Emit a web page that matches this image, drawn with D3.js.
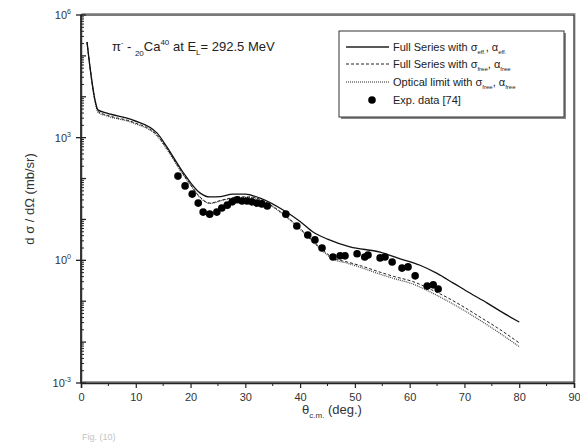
<!DOCTYPE html>
<html>
<head>
<meta charset="utf-8">
<title>pi- Ca40 cross section</title>
<script src="https://cdn.jsdelivr.net/npm/d3@7"></script>
<style>
  body { margin: 0; background: #fff; }
  text { font-family: "Liberation Sans", Arial, sans-serif; fill: #222; }
</style>
</head>
<body>
<script>
// angle (deg), log10 of cross section (mb/sr)
var solidDeg = [1.1, 1.64, 2.56, 3.1, 4.75, 9.5, 13.9, 15.7, 18.6, 21.7, 23.5, 25.5, 27.7, 30, 32.7, 36.9, 40, 42.5, 45, 49.1, 54.6, 58, 61.9, 65, 67.9, 71, 74.1, 77, 80];
var solidLog = [5.34, 4.73, 3.92, 3.68, 3.60, 3.43, 3.11, 2.77, 2.16, 1.65, 1.55, 1.56, 1.62, 1.62, 1.52, 1.23, 0.95, 0.68, 0.52, 0.33, 0.20, 0.05, -0.12, -0.32, -0.55, -0.80, -1.04, -1.28, -1.51];

var dashDeg = [1.1, 1.64, 2.56, 3.1, 4.75, 9.5, 13.9, 15.7, 18.6, 20, 21.7, 23.5, 25.9, 29, 31, 34, 37.6, 40, 42, 44, 46, 48.6, 51, 54.6, 57, 60.6, 64, 67, 70, 73, 76, 80];
var dashLog = [5.34, 4.73, 3.90, 3.64, 3.55, 3.38, 3.06, 2.73, 2.12, 1.85, 1.55, 1.40, 1.48, 1.55, 1.55, 1.40, 1.06, 0.78, 0.52, 0.27, 0.06, -0.04, -0.13, -0.29, -0.39, -0.52, -0.72, -0.92, -1.15, -1.40, -1.65, -2.02];

var dotDeg = [1.1, 1.64, 2.56, 3.1, 4.75, 9.5, 13.9, 15.7, 18.6, 20, 21.7, 23.5, 25.9, 29, 31, 34, 37.6, 40, 42, 44, 46, 48.6, 51, 54.6, 57, 60.6, 64, 67, 70, 73, 76, 80];
var dotLog = [5.33, 4.72, 3.88, 3.62, 3.53, 3.36, 3.04, 2.71, 2.10, 1.84, 1.54, 1.39, 1.47, 1.54, 1.54, 1.39, 1.05, 0.76, 0.50, 0.24, 0.03, -0.07, -0.17, -0.34, -0.44, -0.58, -0.79, -1.00, -1.23, -1.48, -1.74, -2.11];

var expDeg = [17.7, 19.0, 20.3, 21.4, 22.3, 23.5, 24.8, 25.7, 26.7, 27.6, 28.5, 29.4, 30.3, 31.2, 32.1, 33.0, 34.0, 37.4, 39.4, 41.4, 42.7, 44.0, 46.0, 47.3, 48.2, 50.4, 51.8, 52.4, 54.6, 55.5, 56.8, 58.6, 59.7, 61.0, 63.2, 64.3, 65.2];
var expLog = [2.06, 1.82, 1.62, 1.40, 1.18, 1.13, 1.18, 1.28, 1.35, 1.43, 1.48, 1.45, 1.45, 1.43, 1.40, 1.38, 1.33, 1.13, 0.84, 0.62, 0.50, 0.30, 0.08, 0.11, 0.11, 0.16, 0.08, 0.13, 0.06, 0.08, -0.04, -0.19, -0.16, -0.38, -0.63, -0.60, -0.70];

var xTicks = [0, 10, 20, 30, 40, 50, 60, 70, 80, 90];
var yLabelExp = [-3, 0, 3, 6];

var width = 580, height = 444;
var margin = {left: 81, right: 6, top: 15, bottom: 61};

var svg = d3.select("body").append("svg")
    .attr("width", width).attr("height", height);

var x = d3.scaleLinear().domain([0, 90]).range([margin.left, width - margin.right]);
var y = d3.scaleLog().domain([1e-3, 1e6]).range([height - margin.bottom, margin.top]);

function zipLog(a, b) {
  return a.map(function(d, i) { return {x: d, y: Math.pow(10, b[i])}; });
}

// frame shadow + frame
svg.append("rect")
    .attr("x", x(0) + 1).attr("y", y(1e6) - 1.5)
    .attr("width", x(90) - x(0)).attr("height", y(1e-3) - y(1e6))
    .attr("fill", "none").attr("stroke", "#999").attr("stroke-width", 1);
svg.append("rect")
    .attr("x", x(0)).attr("y", y(1e6))
    .attr("width", x(90) - x(0)).attr("height", y(1e-3) - y(1e6))
    .attr("fill", "none").attr("stroke", "#333").attr("stroke-width", 1.3);

// x axis
var xAxis = d3.axisBottom(x).tickValues(xTicks).tickSize(5).tickFormat(d3.format("d"));
var gx = svg.append("g").attr("transform", "translate(0," + y(1e-3) + ")").call(xAxis);
gx.select(".domain").attr("stroke", "#222").attr("stroke-width", 1.5);
gx.selectAll(".tick line").attr("stroke", "#222").attr("stroke-width", 1.2);
gx.selectAll(".tick text").attr("font-size", 11).attr("dy", "0.95em").style("fill", "#333");
var minorX = d3.range(5, 90, 10);
gx.selectAll(".minor").data(minorX).enter().append("line")
    .attr("x1", function(d) { return x(d); }).attr("x2", function(d) { return x(d); })
    .attr("y1", 0).attr("y2", 3).attr("stroke", "#222");

// y axis
var gy = svg.append("g");
gy.append("line").attr("x1", x(0)).attr("x2", x(0))
    .attr("y1", y(1e-3)).attr("y2", y(1e6)).attr("stroke", "#222").attr("stroke-width", 1.5);
var decades = d3.range(-3, 7);
gy.selectAll(".maj").data(decades).enter().append("line")
    .attr("x1", x(0)).attr("x2", x(0) + 5)
    .attr("y1", function(d) { return y(Math.pow(10, d)); })
    .attr("y2", function(d) { return y(Math.pow(10, d)); })
    .attr("stroke", "#222").attr("stroke-width", 1.3);
gy.selectAll(".lab").data(yLabelExp).enter().append("line")
    .attr("x1", x(0) - 5).attr("x2", x(0))
    .attr("y1", function(d) { return y(Math.pow(10, d)); })
    .attr("y2", function(d) { return y(Math.pow(10, d)); })
    .attr("stroke", "#222").attr("stroke-width", 1.3);
var minorY = [];
decades.slice(0, -1).forEach(function(d) {
  for (var k = 2; k < 10; k++) minorY.push(k * Math.pow(10, d));
});
gy.selectAll(".min").data(minorY).enter().append("line")
    .attr("x1", x(0)).attr("x2", x(0) + 3)
    .attr("y1", function(d) { return y(d); }).attr("y2", function(d) { return y(d); })
    .attr("stroke", "#222").attr("stroke-width", 1);
var yl = gy.selectAll(".ylab").data(yLabelExp).enter().append("text")
    .attr("x", x(0) - 10).attr("y", function(d) { return y(Math.pow(10, d)) + 4; })
    .attr("text-anchor", "end").attr("font-size", 11).style("fill", "#333");
yl.append("tspan").text("10");
yl.append("tspan").attr("dy", -5).attr("font-size", 7).text(function(d) { return d; });

// axis titles
svg.append("text")
    .attr("transform", "translate(34," + ((y(1e-3) + y(1e6)) / 2) + ") rotate(-90)")
    .attr("text-anchor", "middle").attr("font-size", 13).style("fill", "#333")
    .text("d σ / dΩ (mb/sr)");
var xt = svg.append("text").attr("x", 332).attr("y", 414)
    .attr("text-anchor", "middle").attr("font-size", 13).style("fill", "#333");
xt.append("tspan").text("θ");
xt.append("tspan").attr("dy", 4).attr("font-size", 8).text("c.m.");
xt.append("tspan").attr("dy", -4).text(" (deg.)");

svg.append("text").attr("x", 82).attr("y", 440).attr("font-size", 9)
    .style("fill", "#c4c4c4").text("Fig. (10)");

// curves
var line = d3.line()
    .x(function(d) { return x(d.x); })
    .y(function(d) { return y(d.y); })
    .curve(d3.curveMonotoneX);

svg.append("path").datum(zipLog(dotDeg, dotLog)).attr("d", line)
    .attr("fill", "none").attr("stroke", "#444").attr("stroke-width", 1.2)
    .attr("stroke-dasharray", "1,1");
svg.append("path").datum(zipLog(dashDeg, dashLog)).attr("d", line)
    .attr("fill", "none").attr("stroke", "#222").attr("stroke-width", 1)
    .attr("stroke-dasharray", "3,2");
svg.append("path").datum(zipLog(solidDeg, solidLog)).attr("d", line)
    .attr("fill", "none").attr("stroke", "#111").attr("stroke-width", 1.3);

svg.selectAll(".exp").data(zipLog(expDeg, expLog)).enter().append("circle")
    .attr("cx", function(d) { return x(d.x); })
    .attr("cy", function(d) { return y(d.y); })
    .attr("r", 3.8).attr("fill", "#000");

// title annotation
var ann = svg.append("text").attr("x", 112).attr("y", 51).attr("font-size", 13).style("fill", "#222");
ann.append("tspan").text("π");
ann.append("tspan").attr("dy", -6).attr("font-size", 7).text("-");
ann.append("tspan").attr("dy", 6).text(" - ");
ann.append("tspan").attr("dy", 5).attr("font-size", 8).text("20");
ann.append("tspan").attr("dy", -5).text("Ca");
ann.append("tspan").attr("dy", -6).attr("font-size", 8).text("40");
ann.append("tspan").attr("dy", 6).text(" at E");
ann.append("tspan").attr("dy", 4).attr("font-size", 8).text("L");
ann.append("tspan").attr("dy", -4).text("= 292.5 MeV");

// legend
var lg = svg.append("g");
lg.append("rect").attr("x", 341).attr("y", 33).attr("width", 225).attr("height", 86)
    .attr("fill", "#888");
lg.append("rect").attr("x", 339).attr("y", 31).attr("width", 225).attr("height", 86)
    .attr("fill", "#fff").attr("stroke", "#333").attr("stroke-width", 1);

var legendRows = [
  {y: 47, dash: null, w: 1.3, label: ["Full Series with σ", "eff.", ", α", "eff."]},
  {y: 64, dash: "3,2", w: 1, label: ["Full Series with σ", "free", ", α", "free"]},
  {y: 82, dash: "1,1", w: 1.2, label: ["Optical limit with σ", "free", ", α", "free"]}
];
legendRows.forEach(function(r) {
  lg.append("line").attr("x1", 346).attr("x2", 389).attr("y1", r.y).attr("y2", r.y)
      .attr("stroke", "#222").attr("stroke-width", r.w)
      .attr("stroke-dasharray", r.dash);
  var t = lg.append("text").attr("x", 393).attr("y", r.y + 4).attr("font-size", 11);
  t.append("tspan").text(r.label[0]);
  t.append("tspan").attr("dy", 3).attr("font-size", 6).text(r.label[1]);
  t.append("tspan").attr("dy", -3).text(r.label[2]);
  t.append("tspan").attr("dy", 3).attr("font-size", 6).text(r.label[3]);
});
lg.append("circle").attr("cx", 372).attr("cy", 100).attr("r", 3.8).attr("fill", "#000");
lg.append("text").attr("x", 393).attr("y", 104).attr("font-size", 11).text("Exp. data [74]");
</script>
</body>
</html>
